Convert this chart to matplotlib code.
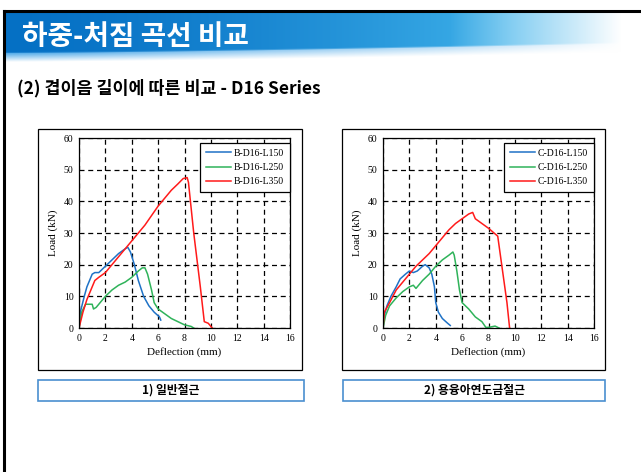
import numpy as np
import matplotlib
matplotlib.use("Agg")
import matplotlib.pyplot as plt
from matplotlib.patches import Rectangle
from matplotlib.lines import Line2D

W, H = 641, 472
KR = ['Noto Sans CJK KR', 'DejaVu Sans']
SERIF = 'Liberation Serif'

# ---- load-deflection data (deflection mm, load kN) ----
b150_x = [0, 0.1, 0.4, 0.6, 1.0, 1.2, 1.5, 2.0, 2.5, 3.0, 3.5, 3.7, 3.9, 4.2, 4.5, 4.9, 5.3, 5.7, 6.1, 6.2]
b150_y = [0, 5, 10, 13, 17, 17.5, 17.5, 19.5, 21.5, 23.5, 25, 25.5, 24, 20, 15, 10, 7, 5, 3.5, 2.5]

b250_x = [0, 0.2, 0.5, 1.0, 1.1, 1.3, 1.6, 2.0, 2.5, 3.0, 3.5, 4.0, 4.5, 4.8, 5.0, 5.2, 5.5, 5.7, 6.0, 6.5, 7.0, 7.5, 8.0, 8.5, 8.7]
b250_y = [0, 5, 7.5, 7.5, 6, 6.5, 8, 10, 12, 13.5, 14.5, 16, 18, 19, 19, 17, 12, 8, 6, 4.5, 3, 2, 1, 0.5, 0]

b350_x = [0, 0.3, 0.6, 1.0, 1.2, 1.5, 2.0, 2.5, 3.0, 3.5, 4.0, 4.5, 5.0, 5.5, 6.0, 6.5, 7.0, 7.5, 7.9, 8.2, 8.3, 8.7, 9.2, 9.5, 9.8, 10.0, 10.1]
b350_y = [0, 5, 9, 13, 15, 16, 17.5, 20, 22.5, 25, 27.5, 30, 32.5, 35.5, 38.5, 41, 43.5, 45.5, 47.2, 47.5, 46, 30, 13, 2, 1.5, 0.5, 0]

c150_x = [0, 0.1, 0.3, 0.6, 1.0, 1.3, 1.7, 2.0, 2.3, 2.6, 3.0, 3.2, 3.5, 3.7, 3.9, 4.0, 4.2, 4.5, 4.9, 5.1]
c150_y = [0, 4, 7, 10, 13, 15.5, 17, 18, 17.5, 18, 19.5, 20, 19, 17, 13, 8, 5, 3, 1.5, 0.8]

c250_x = [0, 0.2, 0.5, 1.0, 1.5, 2.0, 2.3, 2.5, 2.7, 3.0, 3.5, 4.0, 4.5, 5.0, 5.3, 5.4, 5.6, 5.8, 6.0, 6.5, 7.0, 7.5, 7.8, 8.0, 8.5, 8.8]
c250_y = [0, 4, 7, 9.5, 11.5, 13, 13.5, 12.5, 13.5, 15, 17, 19.5, 21.5, 23, 24, 23, 18, 12, 8, 6, 3.5, 2, 0.2, 0.2, 0.6, 0]

c350_x = [0, 0.1, 0.5, 1.0, 1.5, 2.0, 2.5, 3.0, 3.5, 4.0, 4.5, 5.0, 5.5, 6.0, 6.5, 6.8, 7.0, 7.5, 8.0, 8.7, 9.0, 9.4, 9.6]
c350_y = [0, 5, 8, 12, 14.5, 17, 19.5, 21.5, 23.5, 26, 28.5, 31, 33, 34.5, 36, 36.5, 34.5, 33, 31.5, 29, 20, 8, 0]

panels = [
    {"prefix": "B-D16-", "caption": "1) 일반절근",
     "series": [(b150_x, b150_y), (b250_x, b250_y), (b350_x, b350_y)]},
    {"prefix": "C-D16-", "caption": "2) 용융아연도금절근",
     "series": [(c150_x, c150_y), (c250_x, c250_y), (c350_x, c350_y)]},
]
lap_lengths = ["L150", "L250", "L350"]
colors = ["#1f72c6", "#2fb35a", "#ff1a1a"]

x_ticks = [0, 2, 4, 6, 8, 10, 12, 14, 16]
y_ticks = [0, 10, 20, 30, 40, 50, 60]


def frect(x0, y0, x1, y1):
    # pixel box (top-left origin) -> figure fraction rect
    return [x0 / W, 1 - y1 / H, (x1 - x0) / W, (y1 - y0) / H]


fig = plt.figure(figsize=(W / 100, H / 100), dpi=100)
fig.patch.set_facecolor("white")

# ---- header band ----
hx0, hy0, hx1, hy1 = 5, 12, 641, 66
hw, hh = hx1 - hx0, hy1 - hy0
xx = np.linspace(0, 1, hw)[None, :]
yy = np.arange(hh)[:, None] + 0.5
dark = np.array([0.02, 0.44, 0.77])
mid = np.array([0.25, 0.70, 0.92])
white = np.array([1.0, 1.0, 1.0])
t = np.clip(xx / 0.8, 0, 1) ** 1.5
fade = np.clip((xx - 0.70) / 0.27, 0, 1)[..., None]
top_col = dark * (1 - t[..., None]) + mid * t[..., None]
top_col = top_col * (1 - fade) + white * fade
edge = 41 - 10 * xx ** 1.4
stripe = np.clip((yy - edge) / 9.0, 0, 1)[..., None]
light = np.array([0.30, 0.66, 0.91])
k = np.clip(xx / 0.7, 0, 1)[..., None] * 0.6
low_col = light * (1 - k) + white * k
low_col = low_col * (1 - fade) + white * fade
low_col = low_col * (1 - stripe) + white * stripe
wt = np.clip(edge - yy + 0.5, 0, 1)[..., None]
img = top_col * wt + low_col * (1 - wt)
hax = fig.add_axes(frect(hx0, hy0, hx1, hy1))
hax.imshow(np.clip(img, 0, 1), aspect="auto", interpolation="bilinear")
hax.axis("off")

# slide frame
fig.add_artist(Line2D([4 / W, 1], [1 - 11 / H, 1 - 11 / H], color="black", lw=2.2, transform=fig.transFigure))
fig.add_artist(Line2D([4 / W, 4 / W], [0, 1 - 11 / H], color="black", lw=2.2, transform=fig.transFigure))

fig.text(22 / W, 1 - 37 / H, "하중-처짐 곡선 비교", color="white", fontsize=20, fontweight="bold",
         family=KR, va="center", ha="left")
fig.text(17 / W, 1 - 88 / H, "(2) 겹이음 길이에 따른 비교 - D16 Series", color="black", fontsize=12.5,
         fontweight="bold", family=KR, va="center", ha="left")

outer_boxes = [(38, 129, 302, 370), (342, 129, 605, 370)]
plot_boxes = [(79, 138, 290, 328), (383, 138, 594, 328)]
caption_boxes = [(38, 380, 304, 401), (343, 380, 605, 401)]

for p, ob, pb, cb in zip(panels, outer_boxes, plot_boxes, caption_boxes):
    r = frect(*ob)
    fig.add_artist(Rectangle((r[0], r[1]), r[2], r[3], transform=fig.transFigure,
                             facecolor="white", edgecolor="black", lw=0.9, zorder=-1))
    ax = fig.add_axes(frect(*pb))
    for (xs, ys), lap, c in zip(p["series"], lap_lengths, colors):
        ax.plot(xs, ys, color=c, lw=1.1, label=p["prefix"] + lap)
    ax.set_xlim(0, 16)
    ax.set_ylim(0, 60)
    ax.set_xticks(x_ticks)
    ax.set_yticks(y_ticks)
    ax.grid(True, color="black", ls=(0, (4, 3)), lw=0.9)
    ax.tick_params(direction="in", length=0, labelsize=7, pad=4)
    for lab in ax.get_xticklabels() + ax.get_yticklabels():
        lab.set_family(SERIF)
    for s in ax.spines.values():
        s.set_linewidth(0.9)
    ax.set_xlabel("Deflection (mm)", family=SERIF, fontsize=8, labelpad=3)
    ax.set_ylabel("Load (kN)", family=SERIF, fontsize=8, labelpad=4)
    leg = ax.legend(loc="upper right", bbox_to_anchor=(1.0, 0.975), borderaxespad=0,
                    prop={"family": SERIF, "size": 7}, fancybox=False, framealpha=1,
                    edgecolor="black", handlelength=2.6, labelspacing=0.55, borderpad=0.6,
                    handletextpad=0.3)
    leg.get_frame().set_linewidth(0.9)

    r = frect(*cb)
    fig.add_artist(Rectangle((r[0], r[1]), r[2], r[3], transform=fig.transFigure,
                             facecolor="white", edgecolor="#4a8fd0", lw=1.2, zorder=-1))
    fig.text(r[0] + r[2] / 2, r[1] + r[3] / 2, p["caption"], family=KR, fontsize=8.5,
             fontweight="bold", ha="center", va="center")

fig.savefig("out.png", dpi=100)
